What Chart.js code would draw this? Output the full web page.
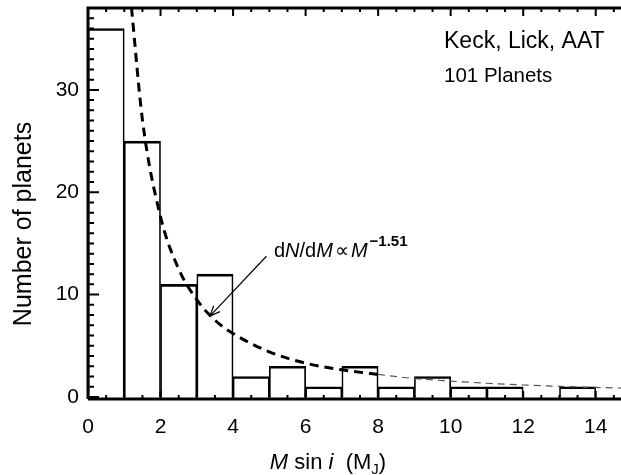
<!DOCTYPE html>
<html lang="en">

<head>
    <meta charset="UTF-8">
    <title>Planet Mass Histogram</title>
    <script src="https://cdn.jsdelivr.net/npm/chart.js"></script>
    <style>
        html, body {
            margin: 0;
            padding: 0;
            background: #fff;
            overflow: hidden;
        }
        #histChart {
            display: block;
        }
    </style>
</head>

<body>
    <canvas id="histChart" width="640" height="475"></canvas>
    <script>
        // histogram bins (M sin i, Jupiter masses), 1 M_J wide
        const binCenters = [0.5, 1.5, 2.5, 3.5, 4.5, 5.5, 6.5, 7.5, 8.5, 9.5, 10.5, 11.5, 12.5, 13.5];
        const planetCounts = [36, 25, 11, 12, 2, 3, 1, 3, 1, 2, 1, 1, 0, 1];

        // power law fit dN/dM ~ M^-1.51
        const fitMass = [1.2, 1.5, 2, 2.5, 3, 3.5, 4, 5, 6, 7, 8];
        const fitCount = [38, 27.1, 17.6, 12.5, 9.5, 7.5, 6.2, 4.4, 3.3, 2.65, 2.2];
        const tailMass = [8, 9, 10, 11, 12, 13, 14, 15];
        const tailCount = [2.2, 1.8, 1.55, 1.34, 1.17, 1.04, 0.93, 0.84];

        const xTicks = [0, 2, 4, 6, 8, 10, 12, 14];
        const yTicks = [0, 10, 20, 30];

        const FONT = '"Liberation Sans", Arial, Helvetica, sans-serif';

        // IDL style frame: thick axes with inward ticks on every side
        const framePlugin = {
            id: 'frame',
            afterDraw(chart) {
                const c = chart.ctx;
                const a = chart.chartArea;
                const xs = chart.scales.x;
                const ys = chart.scales.y;
                c.save();
                c.strokeStyle = '#000';
                c.lineCap = 'butt';
                c.lineWidth = 2;
                for (let v = 0; v <= 15.001; v += 0.5) {
                    const px = xs.getPixelForValue(v);
                    const len = (v % 2 === 0) ? 8 : 4;
                    c.beginPath();
                    c.moveTo(px, a.bottom);
                    c.lineTo(px, a.bottom - len);
                    c.moveTo(px, a.top);
                    c.lineTo(px, a.top + len);
                    c.stroke();
                }
                for (let v = 0; v <= 38; v += 1) {
                    const py = ys.getPixelForValue(v);
                    const len = (v % 10 === 0) ? 11 : 6;
                    c.beginPath();
                    c.moveTo(a.left, py);
                    c.lineTo(a.left + len, py);
                    c.moveTo(a.right, py);
                    c.lineTo(a.right - len, py);
                    c.stroke();
                }
                c.lineWidth = 3;
                c.beginPath();
                c.moveTo(a.left, a.bottom);
                c.lineTo(a.left, a.top);
                c.lineTo(a.right, a.top);
                c.lineTo(a.right, a.bottom);
                c.lineTo(a.left, a.bottom);
                c.stroke();
                c.restore();
            }
        };

        // draw pieces of text one after another, each with its own font / shift
        function drawRuns(c, x, y, runs) {
            let cx = x;
            runs.forEach(r => {
                c.font = r.font;
                c.fillText(r.t, cx, y + (r.dy || 0));
                cx += c.measureText(r.t).width + (r.gap || 0);
            });
            return cx;
        }

        function runsWidth(c, runs) {
            let w = 0;
            runs.forEach(r => {
                c.font = r.font;
                w += c.measureText(r.t).width + (r.gap || 0);
            });
            return w;
        }

        const textPlugin = {
            id: 'labels',
            afterDraw(chart) {
                const c = chart.ctx;
                const xs = chart.scales.x;
                const ys = chart.scales.y;
                c.save();
                c.fillStyle = '#000';
                c.textAlign = 'left';
                c.textBaseline = 'alphabetic';

                c.font = '23px ' + FONT;
                c.fillText('Keck, Lick, AAT', 444, 48);
                c.font = '20.5px ' + FONT;
                c.fillText('101 Planets', 444, 82);

                // fit label and arrow
                const reg = '20px ' + FONT;
                const ita = 'italic 20px ' + FONT;
                drawRuns(c, 274, 257, [
                    { t: 'd', font: reg },
                    { t: 'N', font: ita },
                    { t: '/d', font: reg },
                    { t: 'M', font: ita, gap: 2 },
                    { t: '\u221D', font: reg, gap: 2 },
                    { t: 'M', font: ita, gap: 2 },
                    { t: '\u22121.51', font: 'bold 15px ' + FONT, dy: -11 }
                ]);

                const x0 = xs.getPixelForValue(4.92), y0 = ys.getPixelForValue(13.75);
                const x1 = xs.getPixelForValue(3.36), y1 = ys.getPixelForValue(7.9);
                const ang = Math.atan2(y1 - y0, x1 - x0);
                c.strokeStyle = '#000';
                c.lineWidth = 1.2;
                c.beginPath();
                c.moveTo(x0, y0);
                c.lineTo(x1, y1);
                c.moveTo(x1 - 11 * Math.cos(ang - 0.4), y1 - 11 * Math.sin(ang - 0.4));
                c.lineTo(x1, y1);
                c.lineTo(x1 - 11 * Math.cos(ang + 0.4), y1 - 11 * Math.sin(ang + 0.4));
                c.stroke();

                // x axis title: M sin i  (M_J)
                const xr = '22px ' + FONT;
                const xi = 'italic 22px ' + FONT;
                const xRuns = [
                    { t: 'M', font: xi },
                    { t: ' sin ', font: xr },
                    { t: 'i', font: xi },
                    { t: '  (M', font: xr },
                    { t: 'J', font: '15px ' + FONT, dy: 5 },
                    { t: ')', font: xr }
                ];
                drawRuns(c, 328 - runsWidth(c, xRuns) / 2, 469, xRuns);

                // y axis title
                c.translate(31, 224);
                c.rotate(-Math.PI / 2);
                c.font = '25px ' + FONT;
                c.textAlign = 'center';
                c.fillText('Number of planets', 0, 0);
                c.restore();
            }
        };

        const ctx = document.getElementById('histChart').getContext('2d');
        const chart = new Chart(ctx, {
            type: 'bar',
            data: {
                datasets: [{
                    type: 'line',
                    data: fitMass.map((m, i) => ({ x: m, y: fitCount[i] })),
                    borderColor: '#000',
                    borderWidth: 3,
                    borderDash: [9, 6],
                    pointRadius: 0,
                    cubicInterpolationMode: 'monotone',
                    order: 0
                },
                {
                    type: 'line',
                    data: tailMass.map((m, i) => ({ x: m, y: tailCount[i] })),
                    borderColor: '#555',
                    borderWidth: 1.2,
                    borderDash: [7, 5],
                    pointRadius: 0,
                    cubicInterpolationMode: 'monotone',
                    order: 0
                },
                {
                    type: 'bar',
                    data: binCenters.map((m, i) => ({ x: m, y: planetCounts[i] })),
                    backgroundColor: 'rgba(0,0,0,0)',
                    borderColor: '#000',
                    borderWidth: { top: 2, left: 1, right: 1, bottom: 0 },
                    barPercentage: 1,
                    categoryPercentage: 1,
                    grouped: false,
                    order: 1
                }]
            },
            options: {
                responsive: false,
                animation: false,
                events: [],
                layout: {
                    padding: { left: 0, top: 8, right: 8, bottom: 0 }
                },
                plugins: {
                    legend: { display: false },
                    tooltip: { enabled: false }
                },
                scales: {
                    x: {
                        type: 'linear',
                        min: 0,
                        max: 15,
                        offset: false,
                        grid: { display: false, drawTicks: false },
                        border: { display: false },
                        afterFit: s => {
                            s.height = 76;
                            s.paddingLeft = 0;
                            s.paddingRight = 0;
                        },
                        afterBuildTicks: s => { s.ticks = xTicks.map(v => ({ value: v })); },
                        ticks: {
                            color: '#000',
                            padding: 16,
                            maxRotation: 0,
                            font: { family: FONT, size: 21 }
                        }
                    },
                    y: {
                        type: 'linear',
                        min: -0.2,
                        max: 38,
                        grid: { display: false, drawTicks: false },
                        border: { display: false },
                        afterFit: s => {
                            s.width = 88;
                            s.paddingTop = 0;
                            s.paddingBottom = 0;
                        },
                        afterBuildTicks: s => { s.ticks = yTicks.map(v => ({ value: v })); },
                        ticks: {
                            color: '#000',
                            padding: 9,
                            font: { family: FONT, size: 21 }
                        }
                    }
                }
            },
            plugins: [framePlugin, textPlugin]
        });
    </script>
</body>

</html>
